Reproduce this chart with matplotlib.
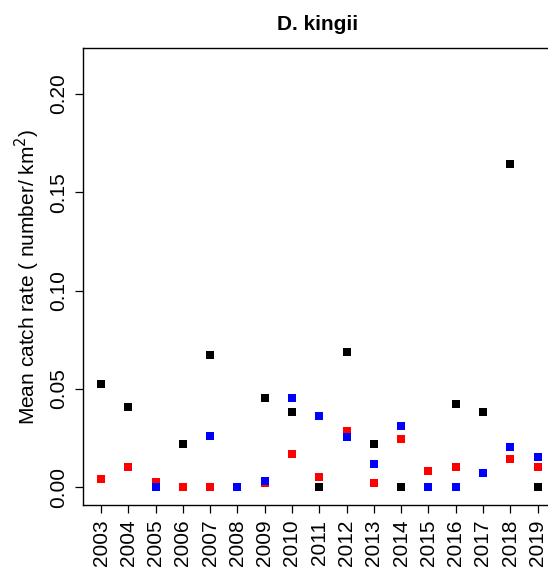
"""Mean catch rate of D. kingii by year, three survey series."""

import matplotlib

matplotlib.use("Agg")
import matplotlib.pyplot as plt
import numpy as np

plt.rcParams["font.family"] = ["Liberation Sans", "DejaVu Sans"]

years = np.arange(2003, 2020)
nan = np.nan

# values (nan = not visible)
black_rate = [0.0523, 0.0409, nan, 0.0219, 0.0671, nan, 0.0451, 0.0380, 0.0,
              0.0687, 0.0219, 0.0, nan, 0.0422, 0.0380, 0.1645, 0.0]
red_rate = [0.0041, 0.0100, 0.0027, 0.0, 0.0, nan, 0.0019, 0.0171, 0.0052,
            0.0285, 0.0022, 0.0243, 0.0083, 0.0100, nan, 0.0142, 0.0100]
blue_rate = [nan, nan, 0.0, nan, 0.0260, 0.0, 0.0032, 0.0451, 0.0360,
             0.0253, 0.0120, 0.0312, 0.0, 0.0, 0.0070, 0.0202, 0.0151]

y_ticks = [0.00, 0.05, 0.10, 0.15, 0.20]

fig = plt.figure(figsize=(5.48, 5.72), dpi=100)
ax = fig.add_axes([0.1515, 0.1171, 0.8622, 0.799])

marker_kw = dict(marker="s", linestyle="none", markersize=6, markeredgewidth=0)
ax.plot(years, black_rate, color="black", **marker_kw)
ax.plot(years, red_rate, color="#ff0000", **marker_kw)
ax.plot(years, blue_rate, color="#0000ff", **marker_kw)

ax.set_xlim(2002.34, 2019.66)
ax.set_ylim(-0.0091, 0.2234)
ax.set_xticks(years)
ax.set_xticklabels([str(y) for y in years], rotation=90, fontsize=15)
ax.set_yticks(y_ticks)
ax.set_yticklabels([f"{v:.2f}" for v in y_ticks], rotation=90, va="center",
                   fontsize=15)
ax.tick_params(length=5.5, width=0.9, pad=5)
for spine in ax.spines.values():
    spine.set_linewidth(1.0)

ax.set_ylabel("Mean catch rate ( number/ km$^{2}$)", fontsize=15, labelpad=5)
fig.text(0.58, 0.958, "D. kingii", ha="center", va="center",
         fontsize=15, fontweight="bold")

fig.savefig("out.png", dpi=100)
